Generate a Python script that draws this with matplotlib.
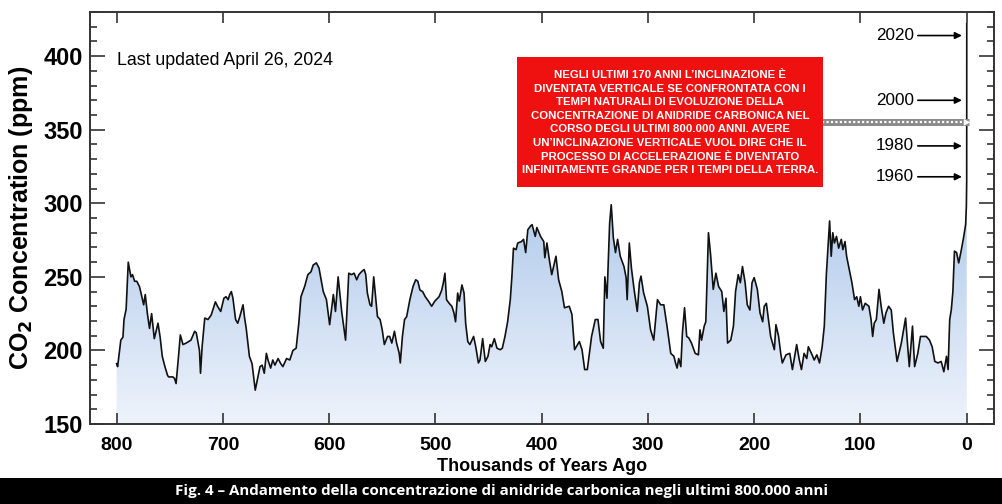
import numpy as np
import matplotlib
matplotlib.use("Agg")
import matplotlib.pyplot as plt
from matplotlib.colors import LinearSegmentedColormap
from matplotlib.patches import PathPatch, Rectangle

plt.rcParams["font.family"] = ["Liberation Sans", "DejaVu Sans"]

# CO2 record: thousands of years ago, ppm
kyr = [
    800, 799, 796, 794, 793, 791, 789, 786.5, 785, 783, 781, 778.5, 777, 774.5, 773,
    771, 769, 767, 764.5, 761, 759, 757, 754.5, 752, 751, 747, 745.5, 744, 742, 740,
    737.5, 734.5, 730, 726.5, 725, 722, 721, 719.5, 717, 714, 711, 707, 705, 702, 699,
    697, 695, 693.5, 692, 690.5, 688, 686, 684, 681, 679.5, 678, 675, 672.5, 671, 669.5,
    667.5, 665, 663, 661, 659, 657.5, 655, 653, 651, 648, 645.5, 643.5, 640, 637, 634,
    631, 628.5, 626.5, 623, 620, 617, 615, 612, 609.5, 605.5, 602.5, 599.5, 596, 594, 591.5,
    588, 584.5, 581.5, 579, 576.5, 574, 572, 569.5, 567, 565.5, 564, 561.5, 560, 558, 556,
    554.5, 552, 550, 548, 545, 543, 541, 538.5, 536.5, 534, 533, 531, 529, 527, 524,
    521, 518.5, 516.5, 514.5, 512, 509.5, 506.5, 503.5, 500.5, 496.5, 494, 492.5, 491, 489.5, 487,
    484.5, 482.5, 481, 479, 477.5, 475, 473, 471.5, 469.5, 467.5, 464, 462, 459.5, 458, 455.5,
    453, 450.5, 448.5, 447, 444.5, 442, 439, 437, 434.5, 432, 429.5, 428, 426.5, 424, 422.5,
    419, 417, 415, 413, 410.5, 409, 406, 404.5, 401, 398, 397, 395, 392.5, 390.5, 386.5,
    384, 381, 378.5, 374, 371.5, 369, 364.5, 362, 359.5, 357, 353, 349.5, 347, 344.5, 342,
    340.5, 338.5, 336, 334.5, 332.5, 330.5, 328.5, 326, 322.5, 320.5, 319.5, 317.5, 315.5, 313, 310,
    308, 306.5, 304, 300.5, 297.5, 294.5, 291, 288, 285, 282, 278.5, 275.5, 274, 272.5, 271,
    269, 267.5, 265.5, 263.5, 261.5, 259, 255.5, 252.5, 251, 249.5, 247, 245.5, 243, 241, 238.5,
    236, 233.5, 230.5, 228.5, 226.5, 225, 222, 219.5, 217.5, 215, 213, 211, 208.5, 206.5, 204,
    202, 200, 197, 194.5, 192, 190.5, 188.5, 186.5, 184.5, 181, 179.5, 177, 175, 173.5, 170,
    166.5, 164, 160, 157.5, 155.5, 153, 150.5, 149, 145.5, 143.5, 141, 138.5, 136, 134, 132,
    129, 127.5, 126, 124.5, 122.5, 120.5, 118, 116.5, 114.5, 113, 110.5, 108, 105.5, 103.5, 101.5,
    100, 98, 95.5, 92, 90, 88.5, 87, 85, 82.5, 80.5, 78, 76, 73.5, 71, 69,
    65.5, 61.5, 57.5, 55.5, 54, 51, 49, 46, 43.5, 38, 35, 32.5, 30, 27, 24,
    21.5, 19, 17.5, 16, 14.5, 13, 11.5, 9.5, 7.5, 5, 3, 1, 0.3, 0.1, 0,
    -0.02, -0.04, -0.06, -0.074,
]
ppm = [
    191, 189, 207, 209, 221, 228, 260, 250, 251.5, 247, 247, 243.5, 239, 231, 238,
    225, 215, 225, 208, 218.5, 209, 196, 189, 183, 182, 182, 181, 177.5, 193.5, 210.5,
    204, 205, 207, 213, 212, 200, 184.5, 202.5, 222, 221, 224, 233, 230, 226.5, 235.5,
    236.5, 234.5, 238, 240, 235.5, 221, 218.5, 223, 231, 222, 215, 196, 191, 182, 173,
    180, 189, 190, 184.5, 198, 193.5, 188, 193.5, 190, 194.5, 191, 189, 194.5, 193.5, 200,
    201.5, 218.5, 236.5, 243.5, 251.5, 253.5, 258, 259.5, 256, 240, 234.5, 217.5, 238, 226.5, 250,
    225.5, 207, 252.5, 251.5, 252.5, 248, 251.5, 253.5, 255, 251.5, 239, 231, 230, 250, 234.5,
    223, 221, 214, 204, 209.5, 209.5, 205, 213, 205, 198, 191.5, 209.5, 221, 223, 234.5,
    243.5, 248, 247, 241, 240, 236.5, 233.5, 230, 233.5, 236.5, 241, 246, 252.5, 234.5, 232,
    230, 225.5, 219.5, 239, 233.5, 244.5, 239, 218.5, 206, 204, 209.5, 202.5, 191.5, 193.5, 208,
    192.5, 196, 204, 202.5, 208, 201.5, 200.5, 201.5, 209.5, 219.5, 234.5, 250, 269.5, 268.5, 273,
    274, 275.5, 266.5, 282, 284.5, 285.5, 277.5, 283.5, 277.5, 274, 263, 273, 260.5, 251.5, 264,
    248, 240, 229, 230, 224.5, 200.5, 206, 200.5, 187, 187, 209.5, 221, 221, 206, 201.5,
    250, 235.5, 286.5, 299, 276.5, 266.5, 275.5, 264, 257, 249.5, 234.5, 273, 256, 241.5, 226.5,
    246, 250.5, 239, 230, 214, 207, 234.5, 231, 231, 216.5, 198, 196, 191.5, 188, 194.5,
    189, 212, 229, 209.5, 208.5, 205, 198, 197, 214, 207, 216.5, 219.5, 280, 265, 241.5,
    252.5, 243.5, 240, 226.5, 235.5, 205, 207, 216.5, 240, 251.5, 246, 257, 246, 231, 227.5,
    246, 249.5, 241.5, 225.5, 219.5, 230, 232, 221, 209.5, 200.5, 217.5, 209.5, 198, 191.5, 197,
    198, 187, 204, 193.5, 187, 198, 194.5, 202.5, 197, 193.5, 197, 191.5, 202.5, 216.5, 252.5,
    288, 264, 280, 273, 277.5, 269.5, 275.5, 268.5, 274, 264, 255, 246, 234.5, 236.5, 230,
    236.5, 227.5, 232, 230, 221, 209.5, 218.5, 221, 241.5, 230, 218.5, 225.5, 230, 227.5, 212,
    192.5, 205, 222, 202.5, 189, 216.5, 189, 198, 209.5, 209.5, 207, 202.5, 192.5, 191.5, 192.5,
    185.5, 196, 187, 221, 227.5, 240, 267.5, 266.5, 259.5, 268.5, 276.5, 285.5, 298, 310, 315,
    330, 350, 390, 422,
]

years = ["2020", "2000", "1980", "1960"]
year_ppm = [414, 370, 339, 318]

note = ("NEGLI ULTIMI 170 ANNI L\u2019INCLINAZIONE \u00c8\n"
        "DIVENTATA VERTICALE SE CONFRONTATA CON I\n"
        "TEMPI NATURALI DI EVOLUZIONE DELLA\n"
        "CONCENTRAZIONE DI ANIDRIDE CARBONICA NEL\n"
        "CORSO DEGLI ULTIMI 800.000 ANNI. AVERE\n"
        "UN\u2019INCLINAZIONE VERTICALE VUOL DIRE CHE IL\n"
        "PROCESSO DI ACCELERAZIONE \u00c8 DIVENTATO\n"
        "INFINITAMENTE GRANDE PER I TEMPI DELLA TERRA.")
caption = "Fig. 4 \u2013 Andamento della concentrazione di anidride carbonica negli ultimi 800.000 anni"

fig = plt.figure(figsize=(10.03, 5.04), dpi=100)
ax = fig.add_axes([90 / 1003, 1 - 424 / 504, 904 / 1003, 412 / 504])

# gradient fill under the curve
poly = ax.fill_between(kyr, ppm, 150, color="none", lw=0)
clip = PathPatch(poly.get_paths()[0], transform=ax.transData, fc="none", ec="none")
ax.add_patch(clip)
cmap = LinearSegmentedColormap.from_list("fill", ["#eef3fb", "#b2cbeb"])
grad = np.linspace(0, 1, 256).reshape(-1, 1)
im = ax.imshow(grad, extent=[801, -1, 150, 300], origin="lower", cmap=cmap,
               aspect="auto", zorder=1)
im.set_clip_path(clip)

ax.plot(kyr, ppm, color="#111111", lw=1.2, zorder=3)

ax.set_xlim(825, -25.7)
ax.set_ylim(150, 430)
ax.set_xticks(np.arange(800, -1, -100))
ax.set_yticks(np.arange(150, 401, 50))
ax.set_yticks(np.arange(150, 431, 10), minor=True)
ax.tick_params(axis="both", which="both", direction="in", top=True, right=True,
               width=1.2, color="#333333")
ax.tick_params(axis="y", which="major", length=11, labelsize=17, pad=5)
ax.tick_params(axis="y", which="minor", length=5)
ax.tick_params(axis="x", which="major", length=8, labelsize=14, pad=9)
for lab in ax.get_xticklabels() + ax.get_yticklabels():
    lab.set_fontweight("bold")
for s in ax.spines.values():
    s.set_linewidth(1.4)
    s.set_color("#333333")

ax.set_xlabel("Thousands of Years Ago", fontsize=13, fontweight="bold", labelpad=3)
ax.set_ylabel("CO$_\\mathbf{2}$ Concentration (ppm)", fontsize=18, fontweight="bold",
              labelpad=6)

ax.text(0.03, 0.883, "Last updated April 26, 2024", transform=ax.transAxes,
        fontsize=12.8, va="center", ha="left")

for y, v in zip(years, year_ppm):
    ax.annotate("", xy=(4.5, v), xytext=(46, v),
                arrowprops=dict(arrowstyle="-|>", color="black", lw=1.2,
                                mutation_scale=10, shrinkA=0, shrinkB=0))
    ax.text(85.5, v, y, fontsize=12.3, va="center", ha="left")

# dotted pointer from the note to the modern rise
ax.plot([136, -2], [355, 355], color="#8a8a8a", lw=5, solid_capstyle="butt",
        zorder=4, clip_on=False)
ax.plot([136, -2], [355, 355], color="white", lw=1.6, ls=(0, (1, 1)), zorder=5,
        clip_on=False)
ax.annotate("", xy=(-3.5, 355), xytext=(2, 355),
            arrowprops=dict(arrowstyle="-|>", color="white", lw=0.5,
                            mutation_scale=10, shrinkA=0, shrinkB=0), zorder=6)

# red note box
fig.add_artist(Rectangle((517 / 1003, 1 - 187 / 504), 306 / 1003, 130 / 504,
                         transform=fig.transFigure, fc="#ef1010", ec="none", zorder=6))
fig.text(670 / 1003, 1 - 122.5 / 504, note, ha="center", va="center", color="white",
         fontsize=8.2, fontweight="bold", linespacing=1.45, zorder=7,
         family=["Liberation Sans Narrow", "Liberation Sans"])

# caption bar
fig.add_artist(Rectangle((0, 0), 1, 26 / 504, transform=fig.transFigure,
                         fc="black", ec="none"))
fig.text(0.5, 13 / 504, caption, ha="center", va="center", color="white",
         fontsize=10.9, fontweight="bold", family=["Open Sans", "DejaVu Sans"])

fig.savefig("out.png", dpi=100)
